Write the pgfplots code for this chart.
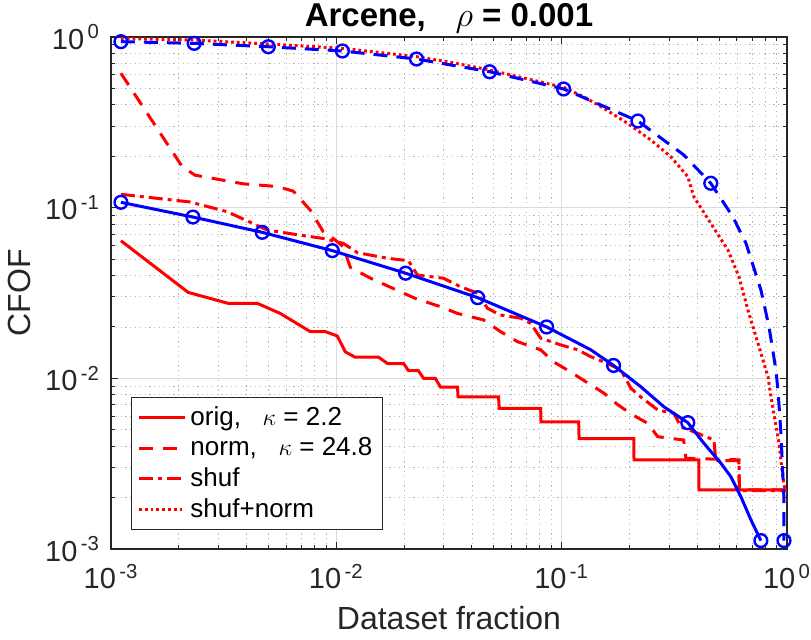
\documentclass[border=0pt]{standalone}
\usepackage{pgfplots}
\pgfplotsset{compat=1.18}
\usepackage{fontspec}
\setmainfont{Liberation Sans}
\definecolor{axgray}{RGB}{38,38,38}
\begin{document}
\begin{tikzpicture}
\begin{axis}[
  at={(0,0)}, anchor=south west,
  scale only axis, width=338pt, height=256pt,
  xmode=log, ymode=log,
  xmin=1e-3, xmax=1, ymin=1e-3, ymax=1,
  xtick={0.001,0.01,0.1,1},
  xticklabels={10\textsuperscript{\,-3},10\textsuperscript{\,-2},10\textsuperscript{\,-1},10\textsuperscript{\,0}},
  ytick={0.001,0.01,0.1,1},
  yticklabels={10\textsuperscript{\,-3},10\textsuperscript{\,-2},10\textsuperscript{\,-1},10\textsuperscript{\,0}},
  tick label style={font=\fontsize{14.5}{16}\selectfont, text=axgray},
  xticklabel style={yshift=-4pt},
  yticklabel style={xshift=-2pt},
  tick align=inside,
  major tick length=3.5pt, minor tick length=2pt,
  every tick/.style={axgray, line width=0.5pt},
  axis line style={axgray, line width=0.6pt},
  grid=both,
  major grid style={black!14, line width=0.5pt},
  minor grid style={black!28, line width=0.45pt, dash pattern=on 0.6pt off 1.8pt},
  xlabel={Dataset fraction}, ylabel={CFOF},
  label style={font=\fontsize{16}{18}\selectfont, text=axgray},
  xlabel style={at={(axis description cs:0.5,-0.135)}, anchor=center},
  ylabel style={at={(axis description cs:-0.135,0.5)}, anchor=center, rotate=0},
  every axis title shift=0pt,
  title={\textbf{Arcene,}\hspace{0.9em}$\rho$ \textbf{= 0.001}},
  title style={at={(axis description cs:0.5,1.036)}, anchor=center, font=\fontsize{16.5}{18}\selectfont},
  clip mode=individual,
  legend cell align=left,
  legend style={at={(axis description cs:0,0)}, anchor=south west, xshift=10pt, yshift=9.5pt,
    font=\fontsize{13}{15}\selectfont, draw=axgray, line width=0.5pt, inner xsep=3pt, inner ysep=2.5pt,
    row sep=0.5pt},
  legend image code/.code={\draw[#1] (0pt,0pt) -- (23pt,0pt);},
]
% orig
\addplot[red, line width=1.5pt] coordinates {
(1.107e-3,0.064) (2.2e-3,0.0319) (3.31e-3,0.0275) (4.46e-3,0.0275) (5.64e-3,0.024)
(7.66e-3,0.0188) (8.93e-3,0.0188) (1.01e-2,0.0177) (1.096e-2,0.0143) (1.21e-2,0.0133)
(1.54e-2,0.0133) (1.69e-2,0.0122) (1.99e-2,0.0122) (2.09e-2,0.0111) (2.31e-2,0.0111)
(2.44e-2,0.0100) (2.75e-2,0.0100) (2.90e-2,0.00889) (3.45e-2,0.00889) (3.47e-2,0.00778)
(5.25e-2,0.00778) (5.28e-2,0.00667) (8.07e-2,0.00667) (8.1e-2,0.00556) (0.119,0.00556)
(0.1195,0.00444) (0.209,0.00444) (0.2095,0.00333) (0.406,0.00333) (0.407,0.00222) (1,0.00222)};
% norm
\addplot[red, line width=1.5pt, dash pattern=on 7pt off 5pt] coordinates {
(1.107e-3,0.613) (2.07e-3,0.174) (2.36e-3,0.155) (3.86e-3,0.138) (5.47e-3,0.133)
(6.44e-3,0.125) (7.66e-3,0.0968) (8.75e-3,0.0723) (9.7e-3,0.066) (1.074e-2,0.059)
(1.154e-2,0.0447) (1.42e-2,0.0386) (1.92e-2,0.0322) (2.24e-2,0.0294) (2.90e-2,0.0263)
(3.45e-2,0.024) (4.5e-2,0.022) (5.35e-2,0.0188) (6.37e-2,0.0164) (8.07e-2,0.0147)
(9.2e-2,0.0125) (0.1096,0.0109) (0.1305,0.0094) (0.1538,0.0082) (0.1775,0.007)
(0.207,0.0061) (0.241,0.00545) (0.267,0.00455) (0.348,0.00435) (0.356,0.0034)
(0.612,0.00333) (0.615,0.00222) (1,0.00222)};
% shuf
\addplot[red, line width=1.5pt, dash pattern=on 7pt off 2.5pt on 2pt off 2.5pt] coordinates {
(1.107e-3,0.1198) (2.24e-3,0.108) (3.28e-3,0.0947) (4.93e-3,0.074) (6.44e-3,0.070)
(8.75e-3,0.066) (1.074e-2,0.0618) (1.24e-2,0.0545) (1.69e-2,0.0505) (2.09e-2,0.0489)
(2.29e-2,0.0403) (2.99e-2,0.0386) (3.56e-2,0.0344) (4.24e-2,0.0315) (4.69e-2,0.0257)
(5.35e-2,0.0235) (6.58e-2,0.0225) (7.28e-2,0.021) (8.07e-2,0.0172) (9.9e-2,0.0157)
(0.1178,0.0147) (0.1346,0.0134) (0.16,0.0122) (0.183,0.0112) (0.203,0.00874)
(0.224,0.0078) (0.267,0.00652) (0.315,0.00624) (0.338,0.0052) (0.402,0.00476)
(0.474,0.00435) (0.483,0.0033) (0.612,0.0033) (0.615,0.0022) (1,0.0022)};
% shuf+norm
\addplot[red, line width=1.5pt, dash pattern=on 1.4pt off 1.5pt] coordinates {
(1.107e-3,0.98) (2.34e-3,0.96) (4.99e-3,0.91) (1.064e-2,0.858) (2.27e-2,0.767)
(3.21e-2,0.711) (4.79e-2,0.641) (0.102,0.507) (0.125,0.447) (0.154,0.382)
(0.196,0.312) (0.249,0.249) (0.305,0.199) (0.363,0.152) (0.386,0.116)
(0.469,0.0774) (0.547,0.0565) (0.612,0.0394) (0.671,0.0251) (0.743,0.0161)
(0.824,0.0102) (0.849,0.0078) (0.921,0.0042) (0.96,0.0026) (0.98,0.0022) (1,0.0022)};
\legend{{orig,\ \ \ $\kappa$ = 2.2}, {norm,\ \ \ $\kappa$ = 24.8}, {shuf}, {shuf+norm}}
% blue dashed curve
\addplot[blue, line width=1.5pt, dash pattern=on 7pt off 4.5pt] coordinates {
(1.107e-3,0.939) (2.34e-3,0.918) (4.99e-3,0.877) (1.064e-2,0.828) (2.27e-2,0.743)
(4.79e-2,0.626) (0.102,0.496) (0.218,0.322) (0.348,0.204) (0.459,0.139)
(0.575,0.0885) (0.658,0.0618) (0.766,0.033) (0.832,0.0201) (0.893,0.0112)
(0.912,0.00855) (0.94,0.0048) (0.97,0.00195) (0.97,0.00112)};
\addplot[blue, only marks, mark=o, mark size=3.2pt, line width=1.2pt] coordinates {
(1.107e-3,0.939) (2.34e-3,0.918) (4.99e-3,0.877) (1.064e-2,0.828) (2.27e-2,0.743)
(4.79e-2,0.626) (0.102,0.496) (0.218,0.322) (0.459,0.139) (0.97,0.00112)};
% blue solid curve
\addplot[blue, line width=1.5pt] coordinates {
(1.107e-3,0.1075) (2.31e-3,0.0881) (4.69e-3,0.0717) (9.6e-3,0.056) (2.03e-2,0.0413)
(4.24e-2,0.0297) (8.58e-2,0.020) (0.1346,0.0147) (0.170,0.0119) (0.2244,0.00893)
(0.284,0.00682) (0.363,0.0055) (0.428,0.00416) (0.509,0.00318) (0.564,0.00265)
(0.625,0.00202) (0.692,0.00148) (0.766,0.00112)};
\addplot[blue, only marks, mark=o, mark size=3.2pt, line width=1.2pt] coordinates {
(1.107e-3,0.1075) (2.31e-3,0.0881) (4.69e-3,0.0717) (9.6e-3,0.056) (2.03e-2,0.0413)
(4.24e-2,0.0297) (8.58e-2,0.020) (0.170,0.0119) (0.363,0.0055) (0.766,0.00112)};
\end{axis}
\pgfresetboundingbox
\path[use as bounding box] (-55.5pt,-45.5pt) rectangle (350pt,274.5pt);
\end{tikzpicture}
\end{document}
